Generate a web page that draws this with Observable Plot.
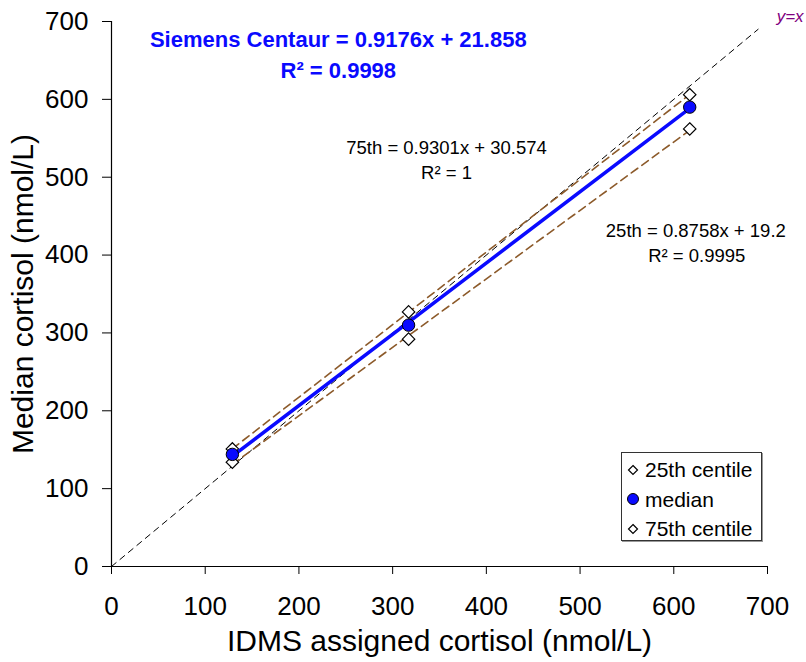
<!DOCTYPE html>
<html>
<head>
<meta charset="utf-8">
<script src="https://cdn.jsdelivr.net/npm/d3@7"></script>
<script src="https://cdn.jsdelivr.net/npm/@observablehq/plot@0.6"></script>
<style>
  html, body { margin: 0; padding: 0; background: #fff; }
  #wrap { position: relative; width: 806px; height: 662px; font-family: "Liberation Sans", Arial, sans-serif; }
  #legend { position: absolute; left: 621px; top: 452px; width: 141px; height: 89px; border: 1px solid #333;
            box-shadow: 1px 1px 0 #999; background: #fff; padding-top: 2px; box-sizing: border-box; }
  .row { height: 29.5px; line-height: 29.5px; font-size: 21px; color: #000; display: flex; align-items: center; }
  .row svg { margin-left: 4px; margin-right: 5px; }
</style>
</head>
<body>
<div id="wrap"></div>
<script>
// ---- data ----
const assigned = [129, 317, 617];          // IDMS assigned cortisol (nmol/L)
const p25      = [134, 292, 562];          // 25th centile
const median   = [144, 310, 590];          // median
const p75      = [151, 327, 606];          // 75th centile
const identityLine = [0, 690];             // y = x reference line extent
const xTicks = [0, 100, 200, 300, 400, 500, 600, 700];
const yTicks = [0, 100, 200, 300, 400, 500, 600, 700];
const legendItems = [
  {label: "25th centile", symbol: "diamond"},
  {label: "median", symbol: "circle"},
  {label: "75th centile", symbol: "diamond"}
];
const mainLabels = [
  {x: 242, y: 676, text: "Siemens Centaur = 0.9176x + 21.858"},
  {x: 242, y: 637, text: "R\u00B2 = 0.9998"}
];
const sideLabels = [
  {x: 357.5, y: 537, text: "75th = 0.9301x + 30.574"},
  {x: 357.5, y: 505, text: "R\u00B2 = 1"},
  {x: 623.5, y: 431, text: "25th = 0.8758x + 19.2"},
  {x: 624.5, y: 399, text: "R\u00B2 = 0.9995"}
];
const identityLabel = [{x: 738.5, y: 707, text: "y=x"}];

// ---- build tables ----
const rows = assigned.map((a, i) => ({a, p25: p25[i], med: median[i], p75: p75[i]}));
const idRows = identityLine.map(v => ({v}));

const brown = "#8c5a2a";
const blue = "#0a0aff";
const font = "Liberation Sans, Arial, sans-serif";

const chart = Plot.plot({
  width: 806,
  height: 662,
  marginLeft: 111,
  marginRight: 39,
  marginTop: 21,
  marginBottom: 96,
  style: {fontFamily: font, fontSize: "26px", color: "#000", background: "#fff", overflow: "visible"},
  x: {domain: [0, 700]},
  y: {domain: [0, 700]},
  marks: [
    Plot.axisX({ticks: xTicks, tickSize: 8, tickPadding: 22, label: null, fontSize: 26, tickFormat: d => String(d)}),
    Plot.axisY({ticks: yTicks, tickSize: 9, tickPadding: 14, label: null, fontSize: 26, tickFormat: d => String(d)}),
    Plot.ruleY([0], {stroke: "#000", strokeWidth: 1.2}),
    Plot.ruleX([0], {stroke: "#000", strokeWidth: 1.2}),
    // y = x
    Plot.line(idRows, {x: "v", y: "v", stroke: "#000", strokeWidth: 1, strokeDasharray: "6,5"}),
    // centile trendlines
    Plot.linearRegressionY(rows, {x: "a", y: "p75", stroke: brown, strokeWidth: 1.6, strokeDasharray: "8,5", ci: 0}),
    Plot.linearRegressionY(rows, {x: "a", y: "p25", stroke: brown, strokeWidth: 1.6, strokeDasharray: "8,5", ci: 0}),
    Plot.dot(rows, {x: "a", y: "p25", symbol: "diamond2", r: 5.6, fill: "#fff", stroke: "#000", strokeWidth: 1.2}),
    Plot.dot(rows, {x: "a", y: "p75", symbol: "diamond2", r: 5.6, fill: "#fff", stroke: "#000", strokeWidth: 1.2}),
    // median trendline
    Plot.linearRegressionY(rows, {x: "a", y: "med", stroke: blue, strokeWidth: 3.5, ci: 0}),
    Plot.dot(rows, {x: "a", y: "med", r: 6.2, fill: blue, stroke: "#000", strokeWidth: 1}),
    // annotations
    Plot.text(mainLabels, {x: "x", y: "y", text: "text", fill: blue, fontWeight: "bold", fontSize: 22, textAnchor: "middle", lineAnchor: "middle"}),
    Plot.text(sideLabels, {x: "x", y: "y", text: "text", fill: "#000", fontSize: 18.5, textAnchor: "middle", lineAnchor: "middle"}),
    Plot.text(identityLabel, {x: "x", y: "y", text: "text", fill: "#800080", fontStyle: "italic", fontSize: 17, textAnchor: "end", lineAnchor: "middle"}),
    // axis titles
    Plot.text(["IDMS assigned cortisol (nmol/L)"], {frameAnchor: "bottom", dy: 74.5, fontSize: 30, textAnchor: "middle", lineAnchor: "middle", fill: "#000"}),
    Plot.text(["Median cortisol (nmol/L)"], {frameAnchor: "left", dx: -88, rotate: -90, fontSize: 30, textAnchor: "middle", lineAnchor: "middle", fill: "#000"})
  ]
});

const wrap = document.getElementById("wrap");
wrap.appendChild(chart);

// legend (HTML overlay)
const legend = document.createElement("div");
legend.id = "legend";
for (const item of legendItems) {
  const row = document.createElement("div");
  row.className = "row";
  const sym = item.symbol === "circle"
    ? `<svg width="14" height="14" viewBox="0 0 14 14"><circle cx="7" cy="7" r="5.5" fill="${blue}" stroke="#000" stroke-width="1"/></svg>`
    : `<svg width="14" height="14" viewBox="0 0 14 14"><polygon points="7,2.5 11.5,7 7,11.5 2.5,7" fill="#fff" stroke="#000" stroke-width="1.2"/></svg>`;
  row.innerHTML = sym + `<span>${item.label}</span>`;
  legend.appendChild(row);
}
wrap.appendChild(legend);
</script>
</body>
</html>
